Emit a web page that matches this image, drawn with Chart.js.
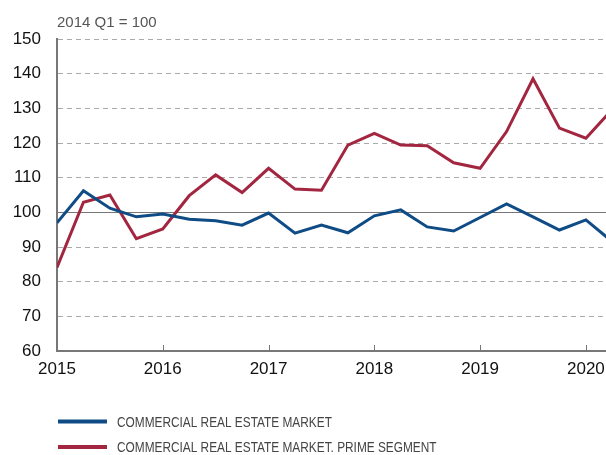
<!DOCTYPE html>
<html>
<head>
<meta charset="utf-8">
<script src="https://cdn.jsdelivr.net/npm/chart.js@4/dist/chart.umd.min.js"></script>
<style>
    html, body { margin: 0; padding: 0; background: #fff; }
    #wrap { width: 606px; height: 455px; position: relative; }
</style>
</head>
<body>
<div id="wrap"><canvas id="priceChart"></canvas></div>
<script>
// Quarterly index values, 2014 Q1 = 100
const quarters = [
    '2015 Q1', '2015 Q2', '2015 Q3', '2015 Q4',
    '2016 Q1', '2016 Q2', '2016 Q3', '2016 Q4',
    '2017 Q1', '2017 Q2', '2017 Q3', '2017 Q4',
    '2018 Q1', '2018 Q2', '2018 Q3', '2018 Q4',
    '2019 Q1', '2019 Q2', '2019 Q3', '2019 Q4',
    '2020 Q1', '2020 Q2'
];
const marketValues = [
    97.0, 106.2, 101.2, 98.7,
    99.5, 98.0, 97.6, 96.3,
    99.8, 94.0, 96.3, 94.1,
    99.0, 100.7, 95.8, 94.6,
    98.5, 102.4, 98.7, 94.9,
    97.8, 91.5
];
const primeValues = [
    84.1, 102.9, 105.0, 92.4,
    95.2, 104.8, 110.8, 105.7,
    112.7, 106.7, 106.4, 119.4,
    122.8, 119.4, 119.2, 114.3,
    112.7, 123.3, 138.5, 124.3,
    121.4, 129.7
];
const seriesNames = ['COMMERCIAL REAL ESTATE MARKET', 'COMMERCIAL REAL ESTATE MARKET. PRIME SEGMENT'];
const yearTicks = [2015, 2016, 2017, 2018, 2019, 2020];
const yTicks = [60, 70, 80, 90, 100, 110, 120, 130, 140, 150];

const BLUE = '#0f4c86';
const RED = '#a2263f';
const AXIS_GREY = '#777';

// '2016 Q3' -> 2016.5
function quarterToX(label) {
    const parts = label.split(' Q');
    return parseInt(parts[0]) + (parseInt(parts[1]) - 1) / 4;
}

function toPoints(values) {
    return values.map((v, i) => ({ x: quarterToX(quarters[i]), y: v }));
}

// index note above the plot, tick marks pointing inward, and the two-row legend
const extrasPlugin = {
    id: 'extras',
    afterDraw(chart) {
        const ctx = chart.ctx;
        const area = chart.chartArea;
        const xScale = chart.scales.x;

        ctx.save();
        ctx.fillStyle = '#555';
        ctx.font = '15px "Liberation Sans", Arial, sans-serif';
        ctx.textBaseline = 'alphabetic';
        ctx.textAlign = 'left';
        ctx.fillText('2014 Q1 = 100', area.left, 27);

        ctx.strokeStyle = AXIS_GREY;
        ctx.lineWidth = 1;
        yearTicks.forEach(year => {
            if (year === xScale.min) return;
            const px = Math.round(xScale.getPixelForValue(year)) + 0.5;
            ctx.beginPath();
            ctx.moveTo(px, area.bottom);
            ctx.lineTo(px, area.bottom - 6);
            ctx.stroke();
        });

        // condensed legend labels
        ctx.font = '15px "Liberation Sans", Arial, sans-serif';
        ctx.textBaseline = 'middle';
        chart.data.datasets.forEach((ds, i) => {
            const y = 421.5 + i * 25.5;
            ctx.strokeStyle = ds.borderColor;
            ctx.lineWidth = 4;
            ctx.beginPath();
            ctx.moveTo(58, y);
            ctx.lineTo(107, y);
            ctx.stroke();
            ctx.save();
            ctx.translate(117, y + 1);
            ctx.scale(0.79, 1);
            ctx.fillStyle = '#444';
            ctx.fillText(ds.label, 0, 0);
            ctx.restore();
        });
        ctx.restore();
    }
};

const ctx = document.getElementById('priceChart').getContext('2d');
new Chart(ctx, {
    type: 'line',
    data: {
        datasets: [
            {
                label: seriesNames[0],
                data: toPoints(marketValues),
                borderColor: BLUE,
                borderWidth: 3,
                pointRadius: 0,
                tension: 0,
                order: 1
            },
            {
                label: seriesNames[1],
                data: toPoints(primeValues),
                borderColor: RED,
                borderWidth: 3,
                pointRadius: 0,
                tension: 0,
                order: 2
            }
        ]
    },
    options: {
        responsive: true,
        maintainAspectRatio: false,
        animation: false,
        layout: { padding: { top: 39, right: 0, bottom: 64, left: 0 } },
        plugins: {
            legend: { display: false },
            tooltip: { enabled: false }
        },
        scales: {
            x: {
                type: 'linear',
                min: 2015,
                max: 2020.19,
                afterFit: scale => {
                    scale.height = 40;
                    scale.paddingLeft = 0;
                    scale.paddingRight = 0;
                },
                afterBuildTicks: scale => {
                    scale.ticks = yearTicks.map(v => ({ value: v }));
                },
                ticks: {
                    autoSkip: false,
                    maxRotation: 0,
                    padding: 8,
                    color: '#111',
                    font: { family: '"Liberation Sans", Arial, sans-serif', size: 17 },
                    callback: v => String(v)
                },
                grid: { display: true, drawOnChartArea: false, drawTicks: false },
                border: { display: true, color: AXIS_GREY, width: 2 }
            },
            y: {
                min: 60,
                max: 150,
                afterFit: scale => {
                    scale.width = 57;
                    scale.paddingTop = 0;
                    scale.paddingBottom = 0;
                },
                afterBuildTicks: scale => {
                    scale.ticks = yTicks.map(v => ({ value: v }));
                },
                ticks: {
                    padding: 16,
                    color: '#111',
                    font: { family: '"Liberation Sans", Arial, sans-serif', size: 17 }
                },
                grid: {
                    drawTicks: false,
                    color: c => c.tick && c.tick.value === 100 ? '#777' : '#aaa',
                    lineWidth: 1
                },
                // dashed gridlines except the 100 baseline
                border: {
                    display: true,
                    color: AXIS_GREY,
                    width: 2,
                    dash: c => c.tick && c.tick.value === 100 ? [] : [5, 4]
                }
            }
        }
    },
    plugins: [extrasPlugin]
});
</script>
</body>
</html>
